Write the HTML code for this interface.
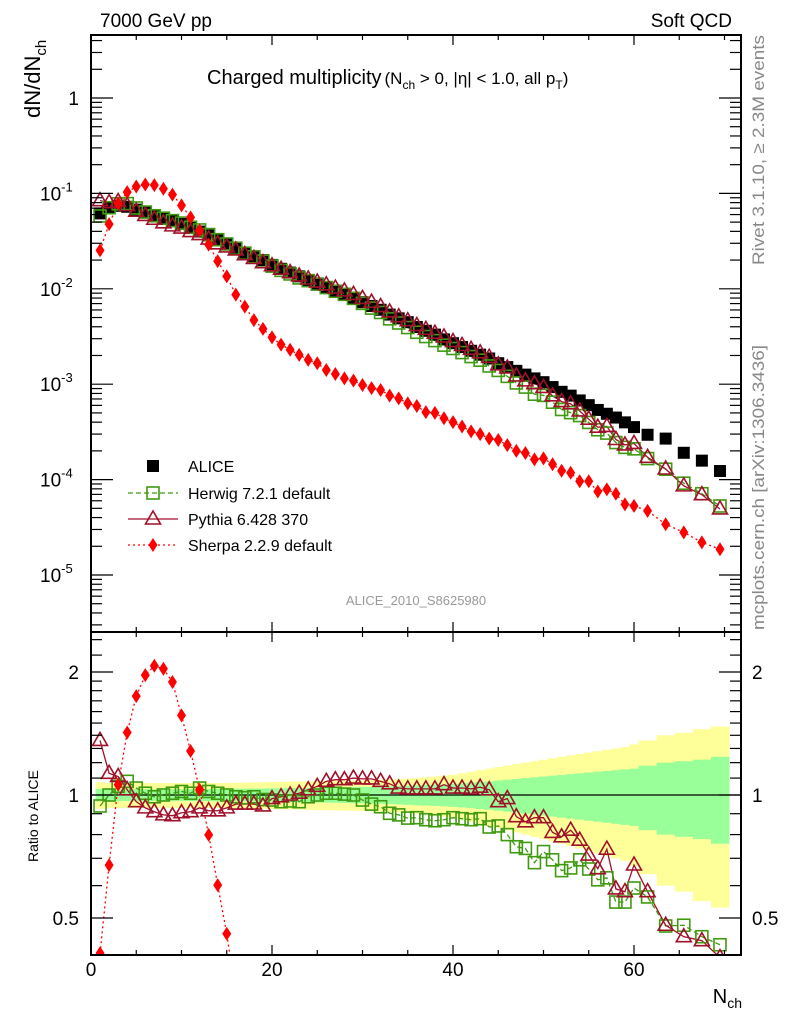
<!DOCTYPE html>
<html><head><meta charset="utf-8">
<style>
html,body{margin:0;padding:0;background:#fff;overflow:hidden;width:786px;height:1024px;}
#wrap{position:relative;width:786px;height:1024px;overflow:hidden;font-family:"Liberation Sans",sans-serif;}
svg{display:block;}
svg text{font-family:"Liberation Sans","DejaVu Sans",sans-serif;}
script{display:none;}
</style></head>
<body>
<div id="wrap">
<svg id="chart" width="786" height="1024" viewBox="0 0 786 1024" xmlns="http://www.w3.org/2000/svg">
<defs>
<clipPath id="clipMain"><rect x="91" y="35" width="650" height="597"/></clipPath>
<clipPath id="clipRatio"><rect x="91" y="632" width="650" height="323"/></clipPath>
</defs>
<g id="bands" clip-path="url(#clipRatio)"></g>
<line x1="91" y1="795" x2="741" y2="795" stroke="#000" stroke-width="1.2"/>
<g id="mainMarks" clip-path="url(#clipMain)"></g>
<g id="ratioMarks" clip-path="url(#clipRatio)"></g>
<g id="axes"></g>
<rect x="91" y="35" width="650" height="597" fill="none" stroke="#000" stroke-width="2"/>
<rect x="91" y="632" width="650" height="323" fill="none" stroke="#000" stroke-width="2"/>
<text x="100" y="27" font-size="19">7000 GeV pp</text>
<text x="732" y="27" font-size="19" text-anchor="end">Soft QCD</text>
<text x="207" y="84" font-size="20">Charged multiplicity<tspan font-size="17" dx="3">(N</tspan><tspan font-size="12" dy="5">ch</tspan><tspan font-size="17" dy="-5"> &gt; 0, |η| &lt; 1.0, all p</tspan><tspan font-size="12" dy="5">T</tspan><tspan font-size="17" dy="-5">)</tspan></text>
<text transform="translate(40,118) rotate(-90)" font-size="22">dN/dN<tspan font-size="15" dy="6">ch</tspan></text>
<text transform="translate(38,862) rotate(-90)" font-size="14">Ratio to ALICE</text>
<text x="742" y="1003" font-size="20" text-anchor="end">N<tspan font-size="14" dy="5">ch</tspan></text>
<text transform="translate(764,265) rotate(-90)" font-size="17" fill="#888" textLength="230" lengthAdjust="spacingAndGlyphs">Rivet 3.1.10, ≥ 2.3M events</text>
<text transform="translate(764,630) rotate(-90)" font-size="17" fill="#888" textLength="285" lengthAdjust="spacingAndGlyphs">mcplots.cern.ch [arXiv:1306.3436]</text>
<text x="416" y="605" font-size="13" fill="#999" text-anchor="middle">ALICE_2010_S8625980</text>
<g id="legend"></g>
</svg>
</div>
<script>
// ---- data ----
const nchBins = [1,2,3,4,5,6,7,8,9,10,11,12,13,14,15,16,17,18,19,20,21,22,23,24,25,26,27,28,29,30,31,32,33,34,35,36,37,38,39,40,41,42,43,44,45,46,47,48,49,50,51,52,53,54,55,56,57,58,59,60,61.5,63.5,65.5,67.5,69.5];
const aliceValues = [0.0617,0.0708,0.0741,0.0724,0.0676,0.0631,0.0589,0.0550,0.0513,0.0479,0.0437,0.0398,0.0363,0.0324,0.0295,0.0269,0.0240,0.0219,0.0200,0.0178,0.0162,0.0148,0.0135,0.0123,0.0112,0.0102,0.00933,0.00871,0.00794,0.00724,0.00661,0.00603,0.00537,0.00490,0.00447,0.00398,0.00363,0.00331,0.00295,0.00269,0.00245,0.00224,0.00204,0.00186,0.00166,0.00151,0.00138,0.00126,0.00115,0.00105,0.000933,0.000832,0.000759,0.000676,0.000603,0.000537,0.000490,0.000447,0.000398,0.000355,0.000295,0.000269,0.000191,0.000158,0.000123];
const herwigRatio = [0.94,1.0,1.05,1.08,1.04,1.01,0.99,1.0,1.01,1.02,1.01,1.04,1.02,1.01,1.0,0.99,0.985,0.99,0.975,0.972,0.963,0.967,0.963,0.99,1.0,1.01,1.01,1.005,1.0,0.972,0.95,0.936,0.902,0.894,0.878,0.88,0.87,0.865,0.87,0.88,0.875,0.87,0.875,0.835,0.84,0.80,0.747,0.74,0.683,0.727,0.694,0.653,0.663,0.694,0.659,0.62,0.627,0.547,0.547,0.592,0.563,0.478,0.48,0.45,0.43];
const pythiaRatio = [1.36,1.13,1.11,1.03,0.963,0.93,0.91,0.894,0.89,0.905,0.91,0.93,0.915,0.915,0.93,0.95,0.95,0.95,0.94,0.98,0.99,1.0,1.01,1.03,1.05,1.08,1.09,1.09,1.10,1.095,1.095,1.08,1.065,1.04,1.035,1.035,1.035,1.035,1.06,1.04,1.04,1.035,1.045,1.03,0.963,0.98,0.885,0.86,0.88,0.88,0.81,0.79,0.82,0.775,0.713,0.66,0.737,0.589,0.58,0.674,0.58,0.48,0.45,0.44,0.40];
const sherpaValues = [0.0253,0.0477,0.0785,0.103,0.118,0.124,0.122,0.112,0.097,0.075,0.056,0.041,0.029,0.0195,0.0135,0.0087,0.0065,0.0047,0.0038,0.0031,0.0026,0.0023,0.00203,0.00180,0.00166,0.00141,0.00128,0.00115,0.00109,0.00098,0.00091,0.00087,0.00076,0.00071,0.00063,0.00059,0.00051,0.00050,0.00044,0.00040,0.00036,0.00032,0.00030,0.00027,0.00026,0.00023,0.00020,0.00019,0.000163,0.000167,0.000145,0.000124,0.000118,0.000096,0.000096,0.000075,0.000079,0.000071,0.000055,0.000053,0.000047,0.000034,0.000028,0.000022,0.0000186];
const totalErr = [0.075,0.07,0.07,0.07,0.07,0.07,0.07,0.07,0.07,0.07,0.07,0.07,0.07,0.07,0.07,0.072,0.072,0.074,0.075,0.076,0.077,0.078,0.079,0.08,0.081,0.082,0.083,0.084,0.085,0.086,0.088,0.09,0.092,0.094,0.097,0.10,0.105,0.11,0.115,0.12,0.13,0.14,0.15,0.16,0.17,0.18,0.19,0.20,0.21,0.22,0.23,0.24,0.25,0.26,0.27,0.28,0.29,0.30,0.31,0.33,0.36,0.40,0.42,0.45,0.47];
const statErr = [0.035,0.033,0.033,0.033,0.033,0.033,0.033,0.033,0.033,0.033,0.033,0.034,0.034,0.035,0.035,0.036,0.036,0.037,0.037,0.038,0.038,0.039,0.04,0.04,0.041,0.042,0.043,0.044,0.045,0.046,0.047,0.048,0.05,0.052,0.054,0.056,0.058,0.06,0.062,0.065,0.068,0.072,0.076,0.08,0.085,0.09,0.095,0.10,0.105,0.11,0.115,0.12,0.125,0.13,0.135,0.14,0.145,0.15,0.155,0.16,0.18,0.20,0.21,0.22,0.24];
const xTickLabels = ["0","20","40","60"];
const xTickValues = [0,20,40,60];
const yTickExps = [0,-1,-2,-3,-4,-5];
const ratioTickValues = [0.5,1,2];
const ratioTickLabels = ["0.5","1","2"];
const legendLabels = ["ALICE","Herwig 7.2.1 default","Pythia 6.428 370","Sherpa 2.2.9 default"];

// ---- axis functions ----
const X = n => 91 + n * 9.05;
const Y = v => 98 - 95.4 * Math.log10(v);
const RY = r => 795 - 177.45 * Math.log(r);
const NS = "http://www.w3.org/2000/svg";
function mk(tag, attrs, parent){ const e=document.createElementNS(NS,tag); for(const k in attrs) e.setAttribute(k,attrs[k]); parent.appendChild(e); return e; }

const GREEN="#3f9a10", PRED="#a0102a", RED="#ff0000";
const mainG=document.getElementById('mainMarks');
const ratioG=document.getElementById('ratioMarks');
const bandG=document.getElementById('bands');
const axG=document.getElementById('axes');
const legG=document.getElementById('legend');

function binEdges(i){
  const n=nchBins[i];
  if(n<=60) return [n-0.5,n+0.5];
  return [n-1,n+1];
}
for(let i=0;i<nchBins.length;i++){
  const [a,b]=binEdges(i);
  const y1=mk('rect',{x:X(a),y:RY(1+totalErr[i]),width:X(b)-X(a)+0.5,height:RY(Math.max(1-totalErr[i],0.05))-RY(1+totalErr[i]),fill:"#ffff99"},bandG);
  
  
}
for(let i=0;i<nchBins.length;i++){
  const [a,b]=binEdges(i);
  const g1=mk('rect',{x:X(a),y:RY(1+statErr[i]),width:X(b)-X(a)+0.5,height:RY(1-statErr[i])-RY(1+statErr[i]),fill:"#99ff99"},bandG);
  
  
}

function polyline(xs,ys,color,dash,parent,name,w){
  const p=mk('polyline',{points:xs.map((x,i)=>x+","+ys[i]).join(" "),fill:"none",stroke:color,"stroke-width":w||1.3},parent);
  if(dash) p.setAttribute('stroke-dasharray',dash);
  
  
}
function square(x,y,color,filled,parent,name){
  const s=mk('rect',{x:x-6,y:y-6,width:12,height:12,fill:filled?color:"none",stroke:color,"stroke-width":filled?0:1.6},parent);
  
  
}
function tri(x,y,color,parent,name){
  const t=mk('polygon',{points:`${x},${y-8} ${x-7.5},${y+5} ${x+7.5},${y+5}`,fill:"none",stroke:color,"stroke-width":1.6},parent);
  
  
}
function diamond(x,y,color,parent,name){
  const d=mk('polygon',{points:`${x},${y-7} ${x+4.5},${y} ${x},${y+7} ${x-4.5},${y}`,fill:color},parent);
  
  
}

const xs=nchBins.map(X);
const herwigVals=aliceValues.map((v,i)=>v*herwigRatio[i]);
const pythiaVals=aliceValues.map((v,i)=>v*pythiaRatio[i]);
const sherpaRatio=sherpaValues.map((v,i)=>v/aliceValues[i]);

polyline(xs,sherpaValues.map(Y),RED,"2,3",mainG,"sherpa-line");
polyline(xs,herwigVals.map(Y),GREEN,"5,3",mainG,"herwig-line");
polyline(xs,pythiaVals.map(Y),PRED,null,mainG,"pythia-line");
nchBins.forEach((n,i)=>square(X(n),Y(aliceValues[i]),"#000",true,mainG,"alice-point"));
nchBins.forEach((n,i)=>square(X(n),Y(herwigVals[i]),GREEN,false,mainG,"herwig-point"));
nchBins.forEach((n,i)=>tri(X(n),Y(pythiaVals[i]),PRED,mainG,"pythia-point"));
nchBins.forEach((n,i)=>diamond(X(n),Y(sherpaValues[i]),RED,mainG,"sherpa-point"));

polyline(xs,sherpaRatio.map(r=>RY(Math.max(r,0.01))),RED,"2,3",ratioG,"sherpa-ratio-line");
polyline(xs,herwigRatio.map(RY),GREEN,"5,3",ratioG,"herwig-ratio-line");
polyline(xs,pythiaRatio.map(RY),PRED,null,ratioG,"pythia-ratio-line");
nchBins.forEach((n,i)=>square(X(n),RY(herwigRatio[i]),GREEN,false,ratioG,"herwig-ratio-point"));
nchBins.forEach((n,i)=>tri(X(n),RY(pythiaRatio[i]),PRED,ratioG,"pythia-ratio-point"));
nchBins.forEach((n,i)=>{ if(sherpaRatio[i]>0.3) diamond(X(n),RY(sherpaRatio[i]),RED,ratioG,"sherpa-ratio-point"); });

function tick(x1,y1,x2,y2){ const l=mk('line',{x1,y1,x2,y2,stroke:"#000","stroke-width":1.2},axG);
  
   }
for(let v=0;v<=71;v+=5){
  const x=X(v), big=(v%20===0);
  const L=big?10:5;
  tick(x,955,x,955-L); tick(x,632,x,632+L); tick(x,632,x,632-L); tick(x,35,x,35+L);
}
xTickValues.forEach((v,i)=>{
  const t=mk('text',{x:X(v),y:976,"font-size":19,"text-anchor":"middle"},axG);
  t.textContent=xTickLabels[i];
  
  
});
for(let e=-6;e<=0;e++){
  for(let m=1;m<=9;m++){
    const y=Y(m*Math.pow(10,e));
    if(y<36||y>631) continue;
    const L=m===1?22:11;
    tick(91,y,91+L,y); tick(741,y,741-L,y);
  }
}
yTickExps.forEach(e=>{
  const y=Y(Math.pow(10,e));
  const t=mk('text',{x:e===0?79:40,y:y+7,"font-size":19,"text-anchor":e===0?"end":"start"},axG);
  if(e===0){ t.textContent="1"; }
  else { t.textContent="10"; const s=document.createElementNS(NS,'tspan'); s.setAttribute('dy','-9'); s.setAttribute('font-size','13'); s.textContent=String(e); t.appendChild(s); }
  
  
});
[0.5,0.6,0.7,0.8,0.9,1,1.1,1.2,1.3,1.4,1.5,1.6,1.7,1.8,1.9,2,2.2,2.4].forEach(r=>{
  const y=RY(r); if(y<633||y>954) return;
  const L=(r===0.5||r===1||r===2)?22:11;
  tick(91,y,91+L,y); tick(741,y,741-L,y);
});
ratioTickValues.forEach((r,i)=>{
  const y=RY(r);
  const t=mk('text',{x:79,y:y+7,"font-size":19,"text-anchor":"end"},axG);
  t.textContent=ratioTickLabels[i];
  
  
  const t2=mk('text',{x:752,y:y+7,"font-size":19},axG);
  t2.textContent=ratioTickLabels[i];
  
  
});

const ly=[466,493,519,545];
square(153,ly[0],"#000",true,legG,"legend-alice-marker");
polyline([128,178],[ly[1],ly[1]],GREEN,"5,3",legG,"legend-herwig-line");
square(153,ly[1],GREEN,false,legG,"legend-herwig-marker");
polyline([128,178],[ly[2],ly[2]],PRED,null,legG,"legend-pythia-line");
tri(153,ly[2],PRED,legG,"legend-pythia-marker");
polyline([128,178],[ly[3],ly[3]],RED,"2,3",legG,"legend-sherpa-line");
diamond(153,ly[3],RED,legG,"legend-sherpa-marker");
legendLabels.forEach((lab,i)=>{
  const t=mk('text',{x:188,y:ly[i]+6,"font-size":16},legG);
  t.textContent=lab;
  
  
});
</script>
</body></html>
